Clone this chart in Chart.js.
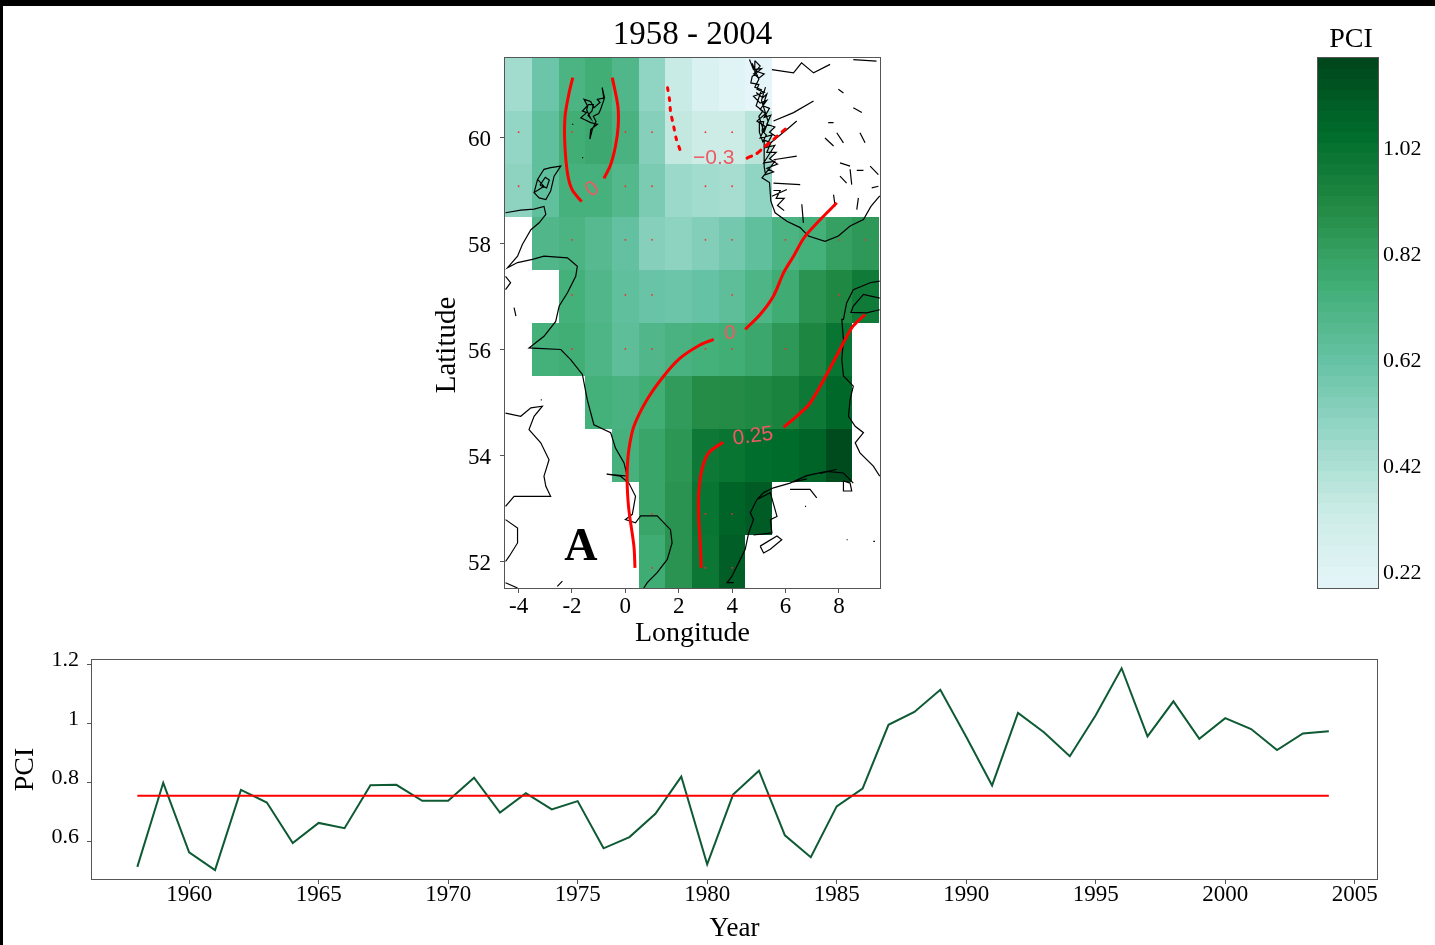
<!DOCTYPE html>
<html><head><meta charset="utf-8">
<script src="https://cdn.jsdelivr.net/npm/chart.js@4"></script>
<style>
html,body{margin:0;padding:0;background:#fff;overflow:hidden;width:1435px;height:945px}
canvas{position:absolute}
.b{position:absolute;background:#000}
</style></head><body>
<div class="b" style="left:0;top:0;width:1435px;height:6px"></div>
<div class="b" style="left:0;top:0;width:3px;height:945px"></div>
<div style="position:absolute;left:420px;top:10px;width:470px;height:640px"><canvas id="map"></canvas></div>
<div style="position:absolute;left:1267px;top:10px;width:168px;height:600px"><canvas id="bar"></canvas></div>
<div style="position:absolute;left:4px;top:645px;width:1431px;height:300px"><canvas id="line"></canvas></div>
<script>
const FONT='"Liberation Serif","Times New Roman",serif';
// ---- time series ----
const years=[1958,1959,1960,1961,1962,1963,1964,1965,1966,1967,1968,1969,1970,1971,1972,1973,1974,1975,1976,1977,1978,1979,1980,1981,1982,1983,1984,1985,1986,1987,1988,1989,1990,1991,1992,1993,1994,1995,1996,1997,1998,1999,2000,2001,2002,2003,2004];
const pci=[.514,.799,.563,.503,.775,.732,.595,.663,.645,.791,.792,.738,.738,.816,.698,.764,.709,.737,.577,.615,.694,.820,.523,.759,.840,.621,.547,.719,.779,.9955,1.039,1.114,.955,.790,1.036,.970,.889,1.028,1.187,.956,1.075,.948,1.018,.981,.910,.966,.974];
const meanYears=[1958,2004];
const meanPci=[.755,.755];
const yearTicks=[1960,1965,1970,1975,1980,1985,1990,1995,2000,2005];
const pciTicks=[.6,.8,1,1.2];
// ---- map grid (null = no data) ----
const gridLons=[-4,-3,-2,-1,0,1,2,3,4,5,6,7,8,9];
const gridLats=[61,60,59,58,57,56,55,54,53,52];
const row61=[.45,.60,.72,.76,.70,.50,.34,.26,.22,.19,null,null,null,null];
const row60=[.49,.64,.76,.78,.73,.53,.36,.33,.33,.39,null,null,null,null];
const row59=[.51,.64,.74,.74,.69,.56,.47,.45,.44,.50,null,null,null,null];
const row58=[null,.70,.72,.68,.63,.53,.51,.54,.58,.64,.72,.75,.82,.85];
const row57=[null,null,.75,.70,.64,.61,.60,.62,.65,.71,.77,.87,.92,.98];
const row56=[null,.75,.76,.71,.65,.70,.73,.75,.76,.79,.85,.93,1.01,null];
const row55=[null,null,null,.75,.73,.76,.84,.90,.905,.92,.94,.99,1.06,null];
const row54=[null,null,null,null,.74,.80,.86,.99,1.01,1.04,1.05,1.08,1.165,null];
const row53=[null,null,null,null,null,.80,.87,1.01,1.08,1.11,null,null,null,null];
const row52=[null,null,null,null,null,.77,.87,1.00,1.10,null,null,null,null,null];
const gridRows=[row61,row60,row59,row58,row57,row56,row55,row54,row53,row52];
const lonTicks=[-4,-2,0,2,4,6,8];
const latTicks=[52,54,56,58,60];
// ---- colour scale ----
const barTicks=[.22,.42,.62,.82,1.02];
const barBands=[.19,.21,.23,.25,.27,.29,.31,.33,.35,.37,.39,.41,.43,.45,.47,.49,.51,.53,.55,.57,.59,.61,.63,.65,.67,.69,.71,.73,.75,.77,.79,.81,.83,.85,.87,.89,.91,.93,.95,.97,.99,1.01,1.03,1.05,1.07,1.09,1.11,1.13,1.15,1.17];
const rampColours=[[229,245,249],[204,236,230],[153,216,201],[102,194,164],[65,174,118],[35,139,69],[0,109,44],[0,68,27]];
const rampMin=.19,rampMax=1.19;
function colourFor(v){
  const t=Math.max(0,Math.min(.99999,(v-rampMin)/(rampMax-rampMin)))*(rampColours.length-1);
  const i=Math.floor(t),f=t-i,a=rampColours[i],b=rampColours[i+1];
  return 'rgb('+a.map((c,k)=>Math.round(c+(b[k]-c)*f)).join(',')+')';
}
// ---- contours, lon/lat ----
const c0West=[[-1.97,61.13],[-2.11,60.84],[-2.26,60.40],[-2.27,59.90],[-2.17,59.33],[-2.0,59.02],[-1.64,58.79]];
const c0East=[[-.49,61.13],[-.28,60.59],[-.27,60.21],[-.37,59.84],[-.55,59.49],[-.80,59.23]];
const cNegWest=[[1.58,60.94],[1.66,60.69],[1.69,60.5],[1.81,60.21],[1.91,59.97],[2.09,59.71]];
const cNegEast=[[4.56,59.61],[4.93,59.70],[5.18,59.81],[5.61,59.99],[5.99,60.16]];
const c0North=[[7.92,58.77],[6.74,58.14],[6.30,57.76],[5.93,57.45],[5.55,57.01],[5.05,56.66],[4.49,56.38]];
const c0South=[[3.31,56.19],[2.81,56.09],[2.06,55.84],[1.44,55.5],[.82,55.06],[.32,54.55],[.13,54.11],[.07,53.74],[.07,53.42],[.13,52.98],[.32,52.29],[.36,51.88]];
const c25East=[[8.98,56.66],[8.53,56.44],[8.23,56.19],[8.04,56.0],[7.54,55.53],[6.92,54.99],[6.55,54.8],[5.93,54.53]];
const c25West=[[3.66,54.25],[3.12,54.05],[2.87,53.74],[2.75,53.30],[2.75,52.79],[2.81,52.29],[2.84,51.88]];
const contourLabels=[['0',-1.24,59.02,-35],['\u22120.3',3.31,59.60,0],['0',3.91,56.30,0],['0.25',4.78,54.36,-7]];
// ---- significance dots ----
const dotRows=[[60.1,[-4,-2,0,1,3,4]],[59.08,[-4,0,1,3,4]],[58.07,[-2,0,1,3,4,6,8,9]],[57.03,[-2,0,1,4,8]],[56.01,[-2,0,1,3,4,6]],[52.9,[1,3,4]],[51.88,[1,3,4]]];
// ---- coastlines, lon/lat ----
const shetland=[[-.87,60.94],[-.78,60.75],[-1.05,60.72],[-.95,60.66],[-1.18,60.56],[-1.3,60.68],[-1.55,60.72],[-1.42,60.6],[-1.61,60.50],[-1.45,60.47],[-1.67,60.37],[-1.5,60.33],[-1.30,60.28],[-1.05,60.25],[-1.18,60.2],[-1.30,60.15],[-1.33,59.97],[-1.24,60.15],[-1.1,60.3],[-1.2,60.4],[-1.0,60.45],[-.93,60.53],[-.80,60.72],[-.87,60.94]];
const shetlandInner=[[-1.4,60.62],[-1.2,60.62],[-1.25,60.5],[-1.4,60.42],[-1.3,60.36],[-1.45,60.52],[-1.4,60.62]];
const orkney=[[-3.42,58.96],[-3.29,59.21],[-3.05,59.40],[-2.80,59.43],[-2.42,59.46],[-2.67,59.27],[-2.73,59.14],[-2.80,58.99],[-2.98,58.83],[-3.23,58.86],[-3.42,58.96],[-3.05,59.08],[-3.29,59.21]];
const orkneyInner=[[-3.2,59.1],[-3.0,59.25],[-2.85,59.2],[-2.95,59.05],[-3.2,59.1]];
const scotland=[[-4.49,58.58],[-3.92,58.63],[-3.42,58.65],[-3.05,58.70],[-2.98,58.55],[-3.23,58.39],[-3.54,58.26],[-3.86,57.98],[-4.04,57.76],[-4.42,57.54],[-4.04,57.64],[-3.48,57.70],[-3.05,57.76],[-2.17,57.73],[-1.80,57.57],[-1.86,57.38],[-2.17,57.07],[-2.48,56.82],[-2.61,56.53],[-3.05,56.25],[-3.61,56.03],[-2.42,56.0],[-2.05,55.81],[-1.61,55.53],[-1.43,55.06],[-1.18,54.58],[-.55,54.43],[-.37,54.14],[-.05,53.86],[.07,53.61],[-.70,53.65],[-.18,53.61],[.13,53.48],[.38,53.23],[.26,52.89],[0,52.79],[.38,52.73],[.57,52.86],[1.19,52.86],[1.69,52.60],[1.75,52.35],[1.57,52.04],[1.19,51.79],[.82,51.6],[.69,51.5]];
const westBritain=[[-4.49,54.80],[-3.92,54.74],[-3.54,54.9],[-3.11,54.93],[-3.42,54.74],[-3.61,54.49],[-3.17,54.24],[-2.86,53.92],[-3.05,53.61],[-2.98,53.42],[-2.80,53.23],[-3.67,53.23],[-4.17,53.23],[-4.49,53.04]];
const wales=[[-4.49,52.79],[-4.04,52.63],[-4.04,52.35],[-4.35,52.1],[-4.49,52.0]];
const southWest=[[-4.49,51.6],[-4.04,51.5]];
const severn=[[-2.55,51.53],[-2.36,51.63]];
const hebrides=[[-4.49,57.38],[-4.3,57.26],[-4.49,57.13]];
const mull=[[-4.17,56.79],[-4.1,56.63]];
const norwayCoast=[[4.65,61.47],[4.80,61.28],[5.1,61.3],[4.75,61.15],[4.70,61.03],[5.0,61.0],[4.93,60.91],[5.2,60.85],[4.80,60.78],[5.05,60.65],[5.3,60.7],[5.05,60.53],[5.25,60.45],[4.93,60.31],[5.24,60.21],[5.05,59.99],[5.5,60.05],[5.24,59.81],[5.6,59.85],[5.18,59.52],[5.6,59.55],[5.12,59.24],[5.4,59.15],[5.45,58.80],[5.61,58.58],[6.05,58.42],[6.55,58.30],[6.86,58.14],[7.48,58.04],[7.98,58.14],[8.42,58.33],[8.92,58.45],[9.2,58.7],[9.53,58.9]];
const islesA=[[4.75,61.4],[5.0,61.1],[4.85,60.95],[5.1,60.9],[4.9,60.6],[5.15,60.5],[5.0,60.4],[5.2,60.1],[5.35,60.3],[5.1,60.7],[5.25,60.95]];
const islesB=[[4.85,61.45],[5.05,61.35],[4.9,61.25],[5.2,61.2],[5.0,61.12],[4.82,61.2],[4.85,61.45]];
const islesC=[[4.9,60.85],[5.15,60.75],[5.3,60.82],[5.15,60.6],[5.4,60.55],[5.2,60.38],[5.45,60.42],[5.3,60.25],[5.6,60.2],[5.4,60.1],[5.7,60.0]];
const islesD=[[5.2,59.95],[5.45,59.9],[5.3,59.72],[5.65,59.72],[5.4,59.6],[5.7,59.5],[5.3,59.42],[5.55,59.35],[5.25,59.3],[5.2,59.45],[5.2,59.95]];
const islesE=[[5.02,60.3],[5.18,60.3],[5.12,60.12],[5.28,60.05],[5.15,59.92],[5.02,60.1],[5.02,60.3]];
const islesF=[[5.55,59.0],[5.8,59.0],[5.65,58.85],[5.95,58.85],[5.7,58.72],[5.95,58.62]];
const fjords=[
 [[5.3,59.84],[6.05,60.15],[6.42,60.31]],
 [[5.55,60.31],[6.3,60.47],[7.05,60.69]],
 [[5.49,61.28],[6.3,61.22],[6.6,61.41],[7.05,61.22],[7.67,61.38]],
 [[8.54,61.47],[9.41,61.44]],
 [[5.55,59.58],[6.42,59.65]],
 [[5.55,59.14],[6.55,59.11]],
 [[5.49,58.89],[6.05,59.02]],
 [[6.61,58.74],[6.67,58.39]],
 [[7.8,58.92],[7.86,58.7]],
 [[8.73,58.86],[8.67,58.64]]];
const lakes=[[[7.98,60.91],[8.17,60.84]],[[8.54,60.56],[8.86,60.47]],[[7.48,59.99],[7.8,59.84]],[[7.6,60.28],[7.8,60.28]],[[8.04,59.52],[8.42,59.46]],[[8.67,59.38],[8.92,59.38]],[[9.17,59.46],[9.48,59.3]],[[8.04,59.27],[8.29,59.14]],[[8.42,59.4],[8.48,59.11]],[[8.79,60.09],[8.98,59.9]],[[7.92,60.09],[8.17,59.9]],[[9.23,59.05],[9.48,59.08]]];
const jutland=[[9.53,57.29],[9.17,57.26],[8.54,57.13],[8.29,56.88],[8.17,56.57],[8.11,56.57],[8.17,56.19],[8.11,55.81],[8.17,55.5],[8.54,55.31],[8.42,55.06],[8.36,54.74],[8.61,54.55],[8.92,54.43],[8.61,54.24],[8.79,54.05],[9.29,53.8],[9.53,53.61]];
const limfjord=[[9.53,56.97],[8.92,57.04],[8.54,56.82],[8.45,56.7],[9.04,56.69],[9.53,56.75]];
const germanBight=[[8.54,53.48],[8.17,53.67],[7.54,53.7],[6.80,53.62],[6.17,53.48],[5.55,53.39],[5.18,53.3],[4.93,53.17],[4.68,52.92],[4.80,52.79],[4.62,52.54],[4.49,52.23],[4.24,51.97],[3.99,51.72],[3.81,51.6],[4.06,51.6]];
const ijssel=[[4.93,53.17],[5.43,53.3],[5.68,52.85],[5.43,52.79],[5.49,52.54],[4.80,52.5]];
const zeeland=[[5.05,52.29],[5.68,52.48],[5.86,52.41],[5.43,52.23],[5.18,52.16],[5.05,52.29]];
const wadden=[[8.17,53.52],[8.42,53.48],[8.48,53.33],[8.17,53.33],[8.17,53.52]];
const frisians=[[[6.30,53.5],[6.80,53.56]],[[7.30,53.66],[7.92,53.74]],[[6.17,53.36],[6.92,53.36],[7.17,53.2]]];
const specks=[[[8.29,52.41],[8.33,52.41]],[[9.29,52.38],[9.35,52.38]],[[6.73,53.04],[6.77,53.04]],[[-3.17,55.05],[-3.13,55.05]],[[-2.0,60.25],[-1.95,60.25]],[[-1.62,59.62],[-1.58,59.62]]];

const coastParts=[shetland,shetlandInner,orkney,orkneyInner,scotland,westBritain,wales,southWest,severn,hebrides,mull,norwayCoast,islesA,islesB,islesC,islesD,islesE,islesF,...fjords,...lakes,jutland,limfjord,germanBight,ijssel,zeeland,wadden,...frisians,...specks];
const coastPoints=[];
coastParts.forEach(p=>{p.forEach(q=>coastPoints.push({x:q[0],y:q[1]}));coastPoints.push({x:NaN,y:NaN});});
const pts=a=>a.map(q=>({x:q[0],y:q[1]}));

const frame={id:'frame',afterDatasetsDraw(c){const a=c.chartArea,x=c.ctx;x.save();x.strokeStyle='#555';x.lineWidth=1;x.strokeRect(a.left-.5,a.top-.5,a.right-a.left+1,a.bottom-a.top+1);x.restore();}};
const heat={id:'heat',beforeDatasetsDraw(c){
  const sx=c.scales.x,sy=c.scales.y,x=c.ctx,a=c.chartArea;
  x.save();x.beginPath();x.rect(a.left,a.top,a.right-a.left,a.bottom-a.top);x.clip();
  gridRows.forEach((row,r)=>row.forEach((v,k)=>{
    if(v===null)return;
    const l=Math.round(sx.getPixelForValue(gridLons[k]-.5)),rr=Math.round(sx.getPixelForValue(gridLons[k]+.5));
    const t=Math.round(sy.getPixelForValue(gridLats[r]+.5)),b=Math.round(sy.getPixelForValue(gridLats[r]-.5));
    x.fillStyle=colourFor(v);x.fillRect(l,t,rr-l,b-t);
  }));
  x.restore();
}};
const labels={id:'labels',afterDatasetsDraw(c){
  const sx=c.scales.x,sy=c.scales.y,x=c.ctx,a=c.chartArea;
  x.save();x.textAlign='center';x.textBaseline='middle';
  x.fillStyle='#ee5a64';x.font='21px "Liberation Sans",sans-serif';
  contourLabels.forEach(l=>{x.save();x.translate(sx.getPixelForValue(l[1]),sy.getPixelForValue(l[2]));x.rotate(l[3]*Math.PI/180);x.fillText(l[0],0,0);x.restore();});
  x.fillStyle='#000';x.font='bold 46px '+FONT;
  x.fillText('A',sx.getPixelForValue(-1.67),sy.getPixelForValue(52.25));
  // The y-axis title sits off-centre in the reference, so it is placed here rather than by the scale.
  x.font='29px '+FONT;x.save();x.translate(a.left-58,(a.top+a.bottom)/2+22);x.rotate(-Math.PI/2);x.fillText('Latitude',0,0);x.restore();
  x.restore();
}};
const colourBar={id:'colourBar',beforeDatasetsDraw(c){
  const sy=c.scales.y,x=c.ctx,a=c.chartArea;
  barBands.forEach((v,i)=>{
    const top=Math.round(sy.getPixelForValue(v+.02)),bot=Math.round(sy.getPixelForValue(v));
    x.fillStyle=colourFor(v+.01);x.fillRect(a.left,top,a.right-a.left,bot-top);
  });
  // Heading of the colour bar, slightly right of its centre as in the reference.
  x.save();x.fillStyle='#000';x.font='28px '+FONT;x.textAlign='center';x.textBaseline='middle';
  x.fillText('PCI',(a.left+a.right)/2+3,a.top-18);x.restore();
}};
const red='#ff0000';
const contour=(a,w,dash)=>({data:pts(a),showLine:true,borderColor:red,borderWidth:w,pointRadius:0,borderDash:dash||[],tension:.3,order:0,borderCapStyle:dash?'round':'butt'});
const tickFont={family:FONT,size:23};
const baseGrid={drawOnChartArea:false,drawTicks:true,tickLength:5,color:'#555'};
const setTicks=arr=>s=>{s.ticks=arr.map(v=>({value:v}));};
const fitH=h=>s=>{s.height=h;s.paddingLeft=0;s.paddingRight=0;};
const fitW=w=>s=>{s.width=w;s.paddingTop=0;s.paddingBottom=0;};
const common={responsive:false,animation:false,devicePixelRatio:1,plugins:{legend:{display:false},tooltip:{enabled:false}}};

function size(id,w,h){const e=document.getElementById(id);e.width=w;e.height=h;e.style.width=w+'px';e.style.height=h+'px';return e;}

new Chart(size('map',470,640),{type:'scatter',
 data:{datasets:[
  contour(c0West,3),contour(c0East,3),contour(cNegWest,3,[3,7]),contour(cNegEast,3,[5,6]),
  contour(c0North,3),contour(c0South,3),contour(c25East,3),contour(c25West,3),
  {data:dotRows.flatMap(r=>r[1].map(l=>({x:l,y:r[0]}))),pointRadius:.9,pointBorderWidth:0,pointBackgroundColor:'#f03030',order:1},
  {data:coastPoints,showLine:true,spanGaps:false,borderColor:'#000',borderWidth:1.2,pointRadius:0,order:2}
 ]},
 options:{...common,
  layout:{autoPadding:false,padding:{right:10,top:0,left:0,bottom:0}},
  plugins:{...common.plugins,title:{display:true,text:'1958 - 2004',fullSize:false,color:'#000',font:{family:FONT,size:33,weight:'normal'},padding:{top:6,bottom:2.4}}},
  scales:{
   x:{type:'linear',min:-4.51,max:9.54,afterBuildTicks:setTicks(lonTicks),afterFit:fitH(62),grid:baseGrid,border:{display:false},
      ticks:{autoSkip:false,maxRotation:0,minRotation:0,color:'#000',font:tickFont,padding:0},
      title:{display:true,text:'Longitude',color:'#000',font:{family:FONT,size:28},padding:0}},
   y:{type:'linear',min:51.5,max:61.5,afterBuildTicks:setTicks(latTicks),afterFit:fitW(85),grid:baseGrid,border:{display:false},
      ticks:{autoSkip:false,color:'#000',font:tickFont,padding:9,labelOffset:2}}
  }},
 plugins:[heat,frame,labels]});

new Chart(size('bar',168,600),{type:'scatter',
 data:{datasets:[{data:[]}]},
 options:{...common,
  layout:{autoPadding:false,padding:{left:51,top:48,right:0,bottom:22}},
  scales:{
   x:{type:'linear',display:false,min:0,max:1},
   y:{type:'linear',position:'right',min:.19,max:1.19,afterBuildTicks:setTicks(barTicks),afterFit:fitW(57),grid:{drawOnChartArea:false,drawTicks:false},border:{display:false},
      ticks:{autoSkip:false,color:'#000',font:{family:FONT,size:22},padding:5,labelOffset:1,callback:v=>v.toFixed(2)}}
  }},
 plugins:[colourBar,frame]});

new Chart(size('line',1431,300),{type:'scatter',
 data:{datasets:[
  {data:years.map((y,i)=>({x:y,y:pci[i]})),showLine:true,borderColor:'#0e5a33',borderWidth:2,pointRadius:0,order:1},
  {data:meanYears.map((y,i)=>({x:y,y:meanPci[i]})),showLine:true,borderColor:red,borderWidth:2,pointRadius:0,order:0}
 ]},
 options:{...common,
  layout:{autoPadding:false,padding:{top:15,right:58,left:0,bottom:0}},
  scales:{
   x:{type:'linear',min:1956.25,max:2005.86,afterBuildTicks:setTicks(yearTicks),afterFit:fitH(66),grid:baseGrid,border:{display:false},
      ticks:{autoSkip:false,maxRotation:0,minRotation:0,color:'#000',font:tickFont,padding:-3,callback:v=>String(v)},
      title:{display:true,text:'Year',color:'#000',font:{family:FONT,size:27},padding:0}},
   y:{type:'linear',min:.473,max:1.215,afterBuildTicks:setTicks(pciTicks),afterFit:fitW(88),grid:baseGrid,border:{display:false},
      ticks:{autoSkip:false,color:'#000',font:{family:FONT,size:22},padding:8,labelOffset:-4,callback:v=>String(v)},
      title:{display:true,text:'PCI',color:'#000',font:{family:FONT,size:28},padding:{top:5,bottom:0}}}
  }},
 plugins:[frame]});
</script>
</body></html>
